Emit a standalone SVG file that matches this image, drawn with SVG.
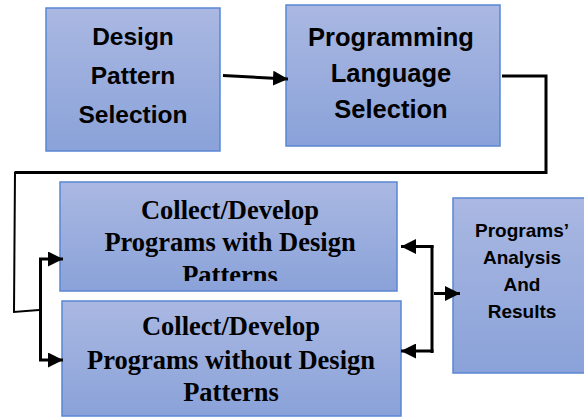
<svg xmlns="http://www.w3.org/2000/svg" width="584" height="417" viewBox="0 0 584 417">
<style>
.box{fill:url(#g);stroke:#5a86d4;stroke-width:1.5}
.cal{font-family:"Liberation Sans",Arial,sans-serif;font-weight:bold;fill:#000;text-anchor:middle}
.tim{font-family:"Liberation Serif","Times New Roman",serif;font-weight:bold;fill:#000;text-anchor:middle;font-size:26.5px}
.ln{fill:none;stroke:#000;stroke-width:3}
.thin{fill:none;stroke:#000;stroke-width:2}
</style>
<defs>
<linearGradient id="g" x1="0" y1="0" x2="0" y2="1">
<stop offset="0" stop-color="#aab8e2"/>
<stop offset="1" stop-color="#8aa2d9"/>
</linearGradient>
<marker id="ah" viewBox="0 0 10 10" refX="10" refY="5" markerWidth="5" markerHeight="5" markerUnits="strokeWidth" orient="auto">
<path d="M0,0 L10,5 L0,10 Z" fill="#000"/>
</marker>
<clipPath id="c3"><rect x="60" y="182" width="337" height="99"/></clipPath>
</defs>
<g id="n1">
<rect class="box" x="46" y="8" width="174" height="143"/>
<text class="cal" font-size="24.5" x="133" y="45">Design</text>
<text class="cal" font-size="24.5" x="133" y="84">Pattern</text>
<text class="cal" font-size="24.5" x="133" y="123">Selection</text>
</g>
<g id="n2">
<rect class="box" x="286" y="5" width="214" height="141"/>
<text class="cal" font-size="25.5" x="391" y="46">Programming</text>
<text class="cal" font-size="25.5" x="391" y="82">Language</text>
<text class="cal" font-size="25.5" x="391" y="118">Selection</text>
</g>
<g id="n3">
<rect class="box" x="60" y="182" width="337" height="109"/>
<g clip-path="url(#c3)">
<text class="tim" x="230" y="219">Collect/Develop</text>
<text class="tim" x="230" y="251">Programs with Design</text>
<text class="tim" x="230" y="284">Patterns</text>
</g>
</g>
<g id="n4">
<rect class="box" x="62" y="301" width="339" height="115"/>
<text class="tim" x="231" y="335">Collect/Develop</text>
<text class="tim" x="231" y="369">Programs without Design</text>
<text class="tim" x="231" y="401">Patterns</text>
</g>
<g id="n5">
<rect class="box" x="453" y="198" width="133" height="175"/>
<text class="cal" font-size="19" x="522" y="237">Programs’</text>
<text class="cal" font-size="19" x="522" y="264">Analysis</text>
<text class="cal" font-size="19" x="522" y="291">And</text>
<text class="cal" font-size="19" x="522" y="318">Results</text>
</g>
<g id="connectors">
<line class="ln" x1="223" y1="75.5" x2="288" y2="79" marker-end="url(#ah)"/>
<polyline class="ln" points="502,76 546,76 546,172.5 15,172.5"/>
<polyline class="thin" points="15,171.5 14,312 39,310"/>
<line class="ln" x1="40.5" y1="258" x2="40.5" y2="361"/>
<line class="ln" x1="39" y1="259" x2="63" y2="259" marker-end="url(#ah)"/>
<line class="ln" x1="39" y1="360" x2="63" y2="360" marker-end="url(#ah)"/>
<line class="ln" x1="432" y1="245" x2="432" y2="353"/>
<line class="ln" x1="433.5" y1="246.5" x2="401" y2="246.5" marker-end="url(#ah)"/>
<line class="ln" x1="433.5" y1="351" x2="401" y2="351" marker-end="url(#ah)"/>
<line class="ln" x1="434" y1="293.5" x2="460" y2="293.5" marker-end="url(#ah)"/>
</g>
</svg>
